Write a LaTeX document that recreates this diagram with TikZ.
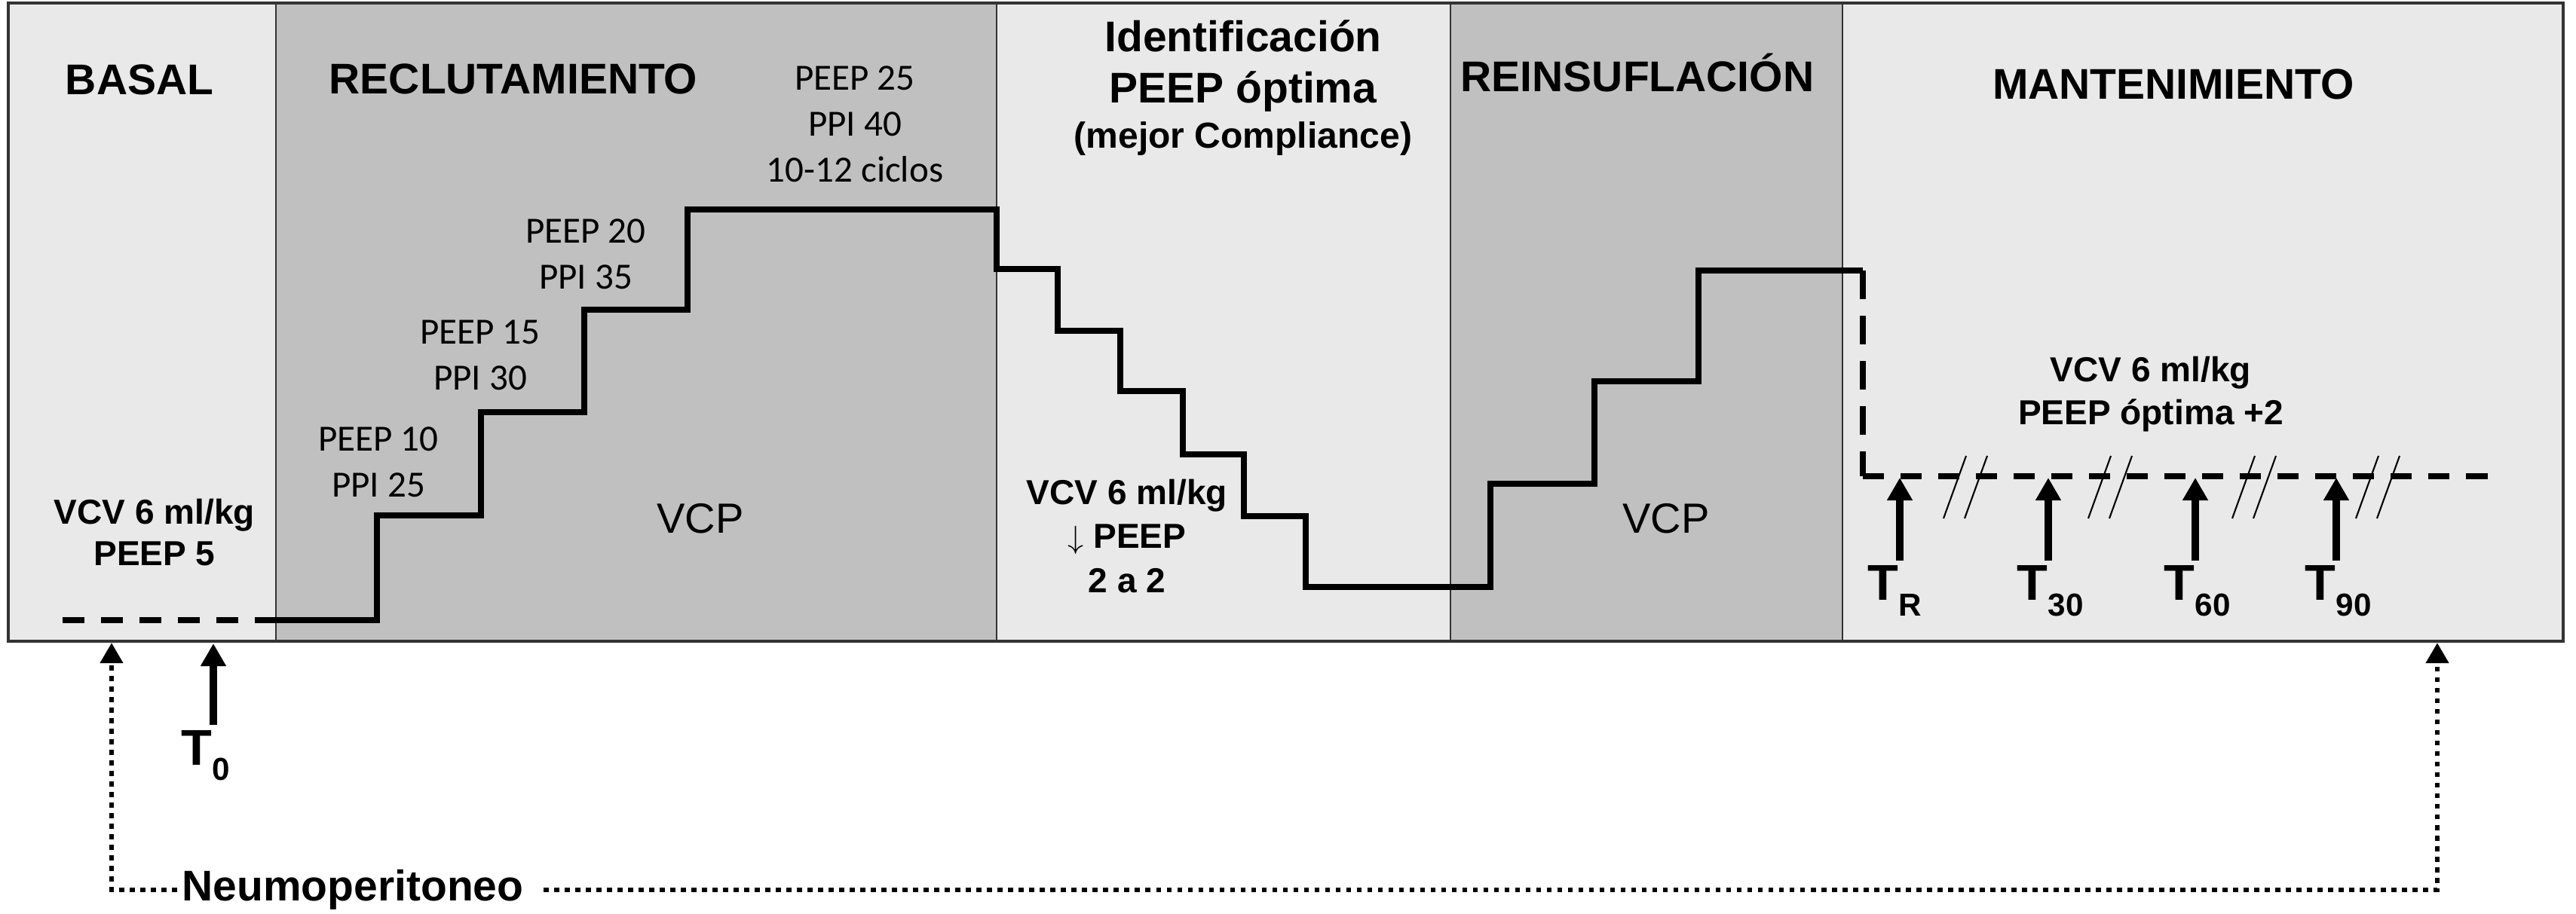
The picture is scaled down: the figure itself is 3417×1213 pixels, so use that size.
\documentclass[tikz,border=0pt]{standalone}
\usepackage{fontspec}
\setmainfont{Liberation Sans}
\newfontfamily\carl{Carlito}
\usetikzlibrary{arrows.meta}
\definecolor{panlight}{HTML}{E9E9E9}
\definecolor{pandark}{HTML}{C0C0C0}
\definecolor{edge}{HTML}{333333}
\newcommand\tsub[1]{\raisebox{-5.7pt}{\fontsize{12}{12}\selectfont #1}}
\begin{document}
\begin{tikzpicture}[x=0.01cm, y=-0.01cm,
  lightpanel/.style={fill=panlight},
  darkpanel/.style={fill=pandark},
  divider/.style={draw=edge, line width=0.6pt},
  frame/.style={draw=edge, line width=1pt},
  steproute/.style={line width=2.1pt, line join=miter},
  dashroute/.style={line width=2.1pt, dash pattern=on 0.29cm off 0.22cm},
  mantvdash/.style={line width=2.1pt, dash pattern=on 0.38cm off 0.22cm},
  mantdash/.style={line width=2.1pt, dash pattern=on 0.28cm off 0.22cm},
  breakmark/.style={line width=0.6pt},
  tarrow/.style={line width=3.1pt, -{Triangle[width=0.32cm,length=0.3cm]}, shorten <=0.06cm},
  dotarrow/.style={line width=1.9pt, dash pattern=on 0.065cm off 0.075cm, -{Triangle[width=0.29cm,length=0.27cm]}},
  heading/.style={font=\bfseries\fontsize{16.2}{18}\selectfont, inner sep=0, anchor=base},
  subhead/.style={font=\bfseries\fontsize{13.66}{16}\selectfont, inner sep=0, anchor=base},
  stepl/.style={font=\carl\fontsize{13.94}{17.36}\selectfont, align=center, inner sep=0, anchor=north},
  boldinfo/.style={font=\bfseries\fontsize{13.09}{#1}\selectfont, align=center, inner sep=0, anchor=north},
  vcplab/.style={font=\fontsize{15.93}{18}\selectfont, inner sep=0, anchor=base},
  tlab/.style={font=\bfseries\fontsize{19}{20}\selectfont, inner sep=0, anchor=base west},
  neumolab/.style={font=\bfseries\fontsize{16.2}{18}\selectfont, inner xsep=0.06cm, inner ysep=0}
]
% bounding box / background
\fill[white] (0,0) rectangle (3417,1213);
\path[use as bounding box] (0,0) rectangle (3417,1213);

% panels
\fill[lightpanel] (11,4) rectangle (366,851);
\fill[darkpanel]  (366,4) rectangle (1322,851);
\fill[lightpanel] (1322,4) rectangle (1924,851);
\fill[darkpanel]  (1924,4) rectangle (2444,851);
\fill[lightpanel] (2444,4) rectangle (3400,851);
\foreach \xd in {366,1322,1924,2444} \draw[divider] (\xd,4) -- (\xd,851);
\draw[frame] (11,4) rectangle (3400,851);

% headings
\node[heading] (basal) at (185,126) {BASAL};
\node[heading] (recl) at (681,125) {RECLUTAMIENTO};
\node[heading] (identA) at (1649,69) {Identificación};
\node[heading] (identB) at (1649,137) {PEEP óptima};
\node[subhead] (identC) at (1649,197) {(mejor Compliance)};
\node[heading] (reins) at (2172,122) {REINSUFLACIÓN};
\node[heading] (mant) at (2883,132) {MANTENIMIENTO};

% step labels
\node[stepl] (p10) at (502,566) {PEEP 10\\PPI 25};
\node[stepl] (p15) at (637,424) {PEEP 15\\PPI 30};
\node[stepl] (p20) at (777,290) {PEEP 20\\PPI 35};
\node[stepl] (p25) at (1134,87) {PEEP 25\\PPI 40\\10-12 ciclos};

% info labels
\node[boldinfo=15.65] (basalinfo) at (205,661) {VCV 6 ml/kg\\PEEP 5};
\node[boldinfo=16.65] (identinfo) at (1495,635) {VCV 6 ml/kg\\$\downarrow$ PEEP\\2 a 2};
\node[boldinfo=16.2] (mantinfo) at (2853,472) {VCV 6 ml/kg\\PEEP óptima +2};
\node[vcplab] (vcp1) at (929,708) {VCP};
\node[vcplab] (vcp2) at (2210,708) {VCP};

% pressure profile
\draw[dashroute] (83,823) -- (366,823);
\draw[steproute] (366,823) -- (500,823) |- (638,684) |- (775,547) |- (912,411)
  |- (1322,278) |- (1403,357) |- (1486,439) |- (1569,519) |- (1650,603)
  |- (1732,685) |- (1977,779) |- (2115,642) |- (2253,506) |- (2471,359);
\draw[mantvdash] (2471,359) -- (2471,632);
\draw[mantdash] (2471,632) -- (3312,632);

% break marks
\foreach \cx in {2607,2799,2990,3154} {
  \draw[breakmark] (\cx-29,688) -- (\cx+1,605);
  \draw[breakmark] (\cx-1,688) -- (\cx+29,605);
}

% time points
\coordinate (c0) at (283,854);
\coordinate (cR) at (2520,634);
\coordinate (c30) at (2717,634);
\coordinate (c60) at (2912,634);
\coordinate (c90) at (3099,634);
\node[tlab] (t0) at (240,1015) {T\tsub{0}};
\node[tlab] (tR) at (2477,797) {T\tsub{R}};
\node[tlab] (t30) at (2675,797) {T\tsub{30}};
\node[tlab] (t60) at (2870,797) {T\tsub{60}};
\node[tlab] (t90) at (3057,797) {T\tsub{90}};
\draw[tarrow] (t0.north -| c0) -- (c0);
\draw[tarrow] (tR.north -| cR) -- (cR);
\draw[tarrow] (t30.north -| c30) -- (c30);
\draw[tarrow] (t60.north -| c60) -- (c60);
\draw[tarrow] (t90.north -| c90) -- (c90);

% pneumoperitoneum
\node[neumolab] (neumo) at (468,1181) {Neumoperitoneo};
\coordinate (nL) at (148,853);
\coordinate (nR) at (3233,853);
\draw[dotarrow] (neumo.west) -| (nL);
\draw[dotarrow] ([xshift=0.2cm]neumo.east) -| (nR);
\end{tikzpicture}
\end{document}
